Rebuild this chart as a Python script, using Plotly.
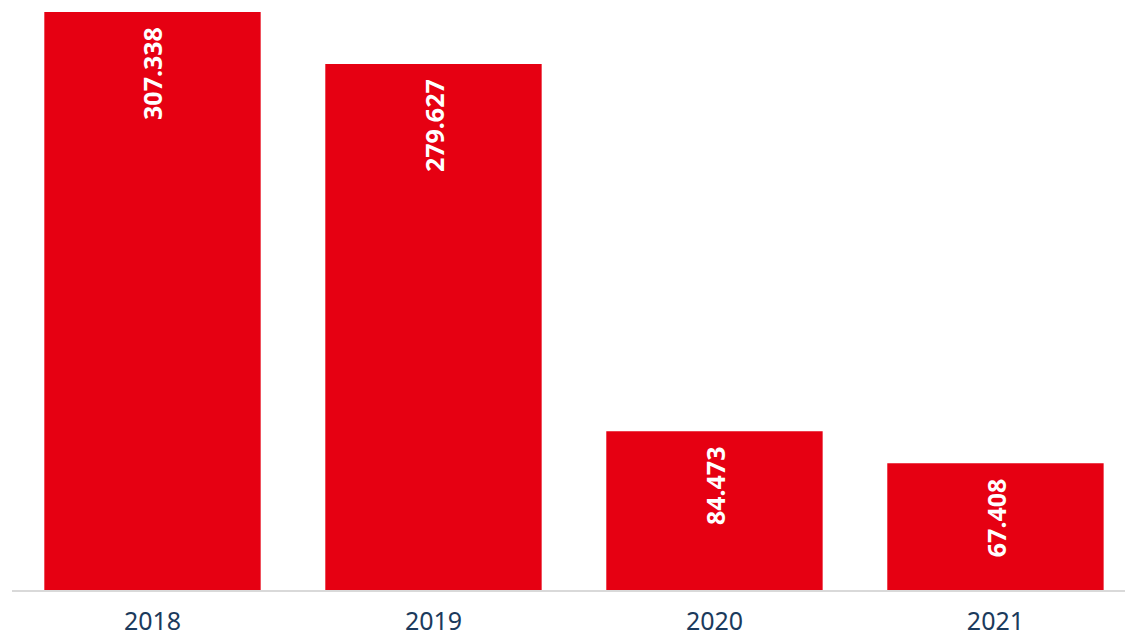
import plotly.graph_objects as go

years = ["2018", "2019", "2020", "2021"]
values = [307338, 279627, 84473, 67408]

def fmt(v):
    return f"{v:,}".replace(",", ".")

labels = [fmt(v) for v in values]

fig = go.Figure()
fig.add_trace(go.Bar(
    x=years, y=values,
    marker=dict(color="#E60012", line=dict(width=0)),
    width=0.77,
    hoverinfo="skip",
))

for i, (v, t) in enumerate(zip(values, labels)):
    fig.add_annotation(
        x=i, y=v, xref="x", yref="y", text=f"<b>{t}</b>", textangle=-90,
        showarrow=False, yanchor="top", xanchor="center",
        yshift=-13,
        font=dict(family="Noto Sans", size=25, color="#FFFFFF"),
    )

fig.update_layout(
    width=1125, height=638,
    margin=dict(l=12, r=0, t=0, b=48),
    paper_bgcolor="#FFFFFF", plot_bgcolor="#FFFFFF",
    showlegend=False,
    bargap=0.23,
)
fig.update_xaxes(
    type="category", range=[-0.5, 3.461], automargin=False,
    showline=True, linecolor="#D9D9D9", linewidth=2,
    showgrid=False, zeroline=False, ticks="",
    ticklabelstandoff=8,
    tickfont=dict(family="Noto Sans", size=25, color="#1B3A5C"),
)
fig.update_yaxes(
    range=[0, 313700], visible=False, showgrid=False, zeroline=False,
)

fig.write_html("out.html")
